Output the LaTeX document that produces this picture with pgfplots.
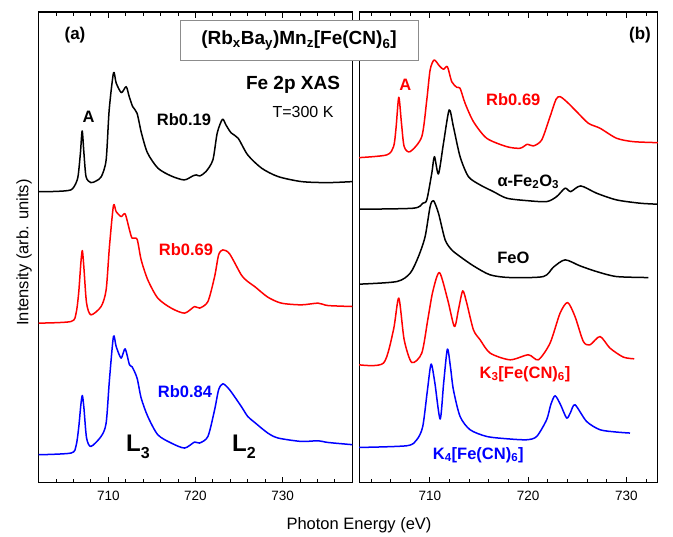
\documentclass[border=0pt]{standalone}
\usepackage{fontspec}
\setmainfont{Liberation Sans}
\usepackage{pgfplots}
\pgfplotsset{compat=1.18}
\definecolor{xred}{RGB}{255,0,0}
\definecolor{xblue}{RGB}{0,0,255}
\newcommand{\fs}[1]{\fontsize{#1}{#1}\selectfont}
\pgfplotsset{
  xas/.style={
    scale only axis, anchor=south west,
    height=470.7pt, ymin=0, ymax=471, ytick=\empty,
    xtick={710,720,730},
    tick align=inside, major tick length=6pt, minor tick length=3.5pt,
    axis line style={line width=1.1pt},
    every tick/.style={black, line width=0.9pt},
    tick label style={font=\fs{13.5}},
    /pgf/number format/assume math mode=true,
    /pgf/number format/1000 sep={},
    xticklabel style={yshift=-5pt},
    every axis plot/.append style={line width=1.5pt, line join=round, no markers, smooth, tension=0.45},
  }
}
\begin{document}
\begin{tikzpicture}[x=1pt,y=1pt]
\useasboundingbox (0,0) rectangle (673,537);

% panel (a)
\begin{axis}[xas, at={(44.3,54.3)}, width=313.7pt, xmin=702, xmax=738,
  minor xtick={702,704,...,738}]
\addplot[black] coordinates {
(702,291.3) (704,291.5) (705.7,293) (706.3,300) (706.55,308) (706.8,330) (707.0,352) (707.2,330) (707.45,306) (708.0,300.3) (708.6,302) (709.2,306.3) (709.75,323) (710.1,373) (710.6,410.3) (710.9,400) (711.5,390.3) (712.05,396.3) (712.4,386.3) (712.8,376.3) (713.3,369.7) (713.8,350) (714.5,330) (715.7,314.7) (717.2,307) (718.7,303) (719.7,307) (720.1,308) (720.5,307) (721.2,311.3) (722.0,323) (722.5,350) (723.1,363.7) (723.5,358) (724.1,350) (724.9,344.7) (726.0,328) (727.6,314.7) (729.5,306.3) (732.2,301.3) (735.2,300.3) (738,301.3)
};
\addplot[xred] coordinates {
(702,159.7) (705.72,161.3) (706.3,169.7) (706.6,190) (706.85,220) (707.02,232.3) (707.2,215) (707.5,180) (708.0,168) (709.17,176.3) (709.75,193) (710.13,236.3) (710.59,277.3) (710.9,271.3) (711.47,266.3) (711.93,269) (712.43,253) (712.73,244.7) (713.3,243.7) (713.77,223) (714.53,203) (715.68,184.7) (717.22,174.7) (718.75,169.7) (719.9,176.3) (720.47,174.7) (721.43,181.3) (722.2,206.3) (722.66,228) (723.15,233) (723.92,229) (725.26,208) (726.0,201.3) (726.8,196.3) (728.3,185.7) (729.86,179.7) (732.16,178) (734.07,179.7) (735.2,177.3) (738.1,176.3)
};
\addplot[xblue] coordinates {
(702,28) (705.72,29.7) (706.3,37) (706.6,55) (706.85,78) (707.02,87.3) (707.2,75) (707.5,45) (708.0,36.3) (709.17,46.3) (709.75,59.7) (710.13,103) (710.59,146.3) (710.9,136.3) (711.47,124.7) (711.93,134) (712.43,118) (712.73,116) (713.3,104.7) (713.77,84.7) (714.53,66.3) (715.68,48) (717.22,39.7) (718.75,34.7) (719.9,40.7) (720.47,39.7) (721.43,46.3) (722.2,73) (722.66,93) (723.15,99) (723.92,93) (725.26,76.3) (726.0,66.3) (726.8,60.3) (728.3,49.7) (729.5,44.7) (732.16,41.3) (734.07,42) (735.2,40.3) (738.1,38)
};
\end{axis}

% panel (b)
\begin{axis}[xas, at={(365.7,54.3)}, width=298.6pt, xmin=702.8, xmax=733.2,
  minor xtick={704,706,...,732}]
\addplot[xred] coordinates {
(702.8,325.3) (705.6,328) (706.3,336.3) (706.55,355) (706.83,385.7) (707.1,360) (707.38,336.3) (707.99,331.3) (709.17,346.3) (709.68,383) (710.02,413) (710.43,423) (710.97,417) (711.38,413.7) (711.78,416.3) (712.22,401.3) (712.73,395.7) (713.07,394.7) (713.58,379.7) (714.43,361.3) (715.78,344.7) (717.82,336.3) (719.18,334.7) (719.92,338.7) (720.53,337) (721.38,343) (722.23,366.3) (722.84,383.7) (723.25,386.3) (723.92,381.3) (724.94,371.3) (726.13,359.7) (727.32,354.7) (729.0,344.7) (730.7,341.3) (733.2,340.3)
};
\addplot[black] coordinates {
(702.8,273.7) (708.32,274.7) (709.27,279.7) (709.68,283) (710.19,309.7) (710.46,326.3) (710.87,309) (711.38,339.7) (711.96,373) (712.39,356.3) (713.07,326.3) (713.92,306.3) (715.11,298) (716.46,291.3) (717.82,284.7) (719.85,282.3) (721.88,281.3) (722.9,286.3) (723.76,294.7) (724.33,291.3) (725.35,297) (726.97,289.7) (729.0,283) (731.39,279.7) (733.2,278.7)
};
\addplot[black] coordinates {
(702.8,198.7) (706.63,201.3) (707.99,209.7) (708.83,226.3) (709.51,246.3) (710.02,276.3) (710.36,282.3) (710.87,269.7) (711.55,243) (712.22,233) (713.07,226.3) (714.43,217) (716.13,208) (718.16,205.3) (721.55,206.3) (722.57,215.7) (723.76,223) (725.28,217) (726.97,211.3) (729.0,206.3) (732.23,205.3)
};
\addplot[xred] coordinates {
(702.8,118) (705.27,119.7) (706.29,153) (706.83,184.7) (707.38,143) (708.15,120.3) (709.17,129.7) (709.78,163) (710.29,191.3) (710.97,210.3) (711.81,183) (712.49,156.3) (712.9,173) (713.34,192) (713.75,179.7) (714.43,153) (715.11,143) (716.13,129.7) (718.16,123) (720.02,128) (721.04,123) (722.23,139.7) (723.25,169.7) (724.02,180.3) (724.77,166.3) (725.62,141.3) (726.3,138) (727.32,146.3) (728.33,134.7) (729.69,125.7) (730.8,124)
};
\addplot[xblue] coordinates {
(702.8,35.3) (707.64,37) (708.66,43) (709.27,56.3) (709.75,93) (710.12,118.7) (710.5,100) (711.04,63.7) (711.4,100) (711.78,133.7) (712.1,115) (712.39,93) (713.07,66.3) (714.09,53) (715.78,46.3) (717.82,44) (719.85,43) (720.87,46.3) (721.88,63) (722.3,78) (722.74,87) (723.3,78) (723.92,64.7) (724.3,70) (724.77,78) (725.95,61.3) (727.32,53) (729.0,50.7) (730.37,49.7)
};
\end{axis}

% texts
\node[font=\fs{17}\bfseries] at (75,502) {(a)};
\node[font=\fs{17}\bfseries] at (640,502) {(b)};
\node[font=\fs{16.5}\bfseries] at (88.7,420.3) {A};
\node[font=\fs{16.5}\bfseries] at (184,417) {Rb0.19};
\node[font=\fs{19}\bfseries] at (293,452) {Fe 2p XAS};
\node[font=\fs{16}] at (303,425) {T=300 K};
\node[font=\fs{16.5}\bfseries, text=xred] at (186,287) {Rb0.69};
\node[font=\fs{16.5}\bfseries, text=xblue] at (185,145.3) {Rb0.84};
\node[font=\fs{24}\bfseries] at (138,90) {L\raisebox{-0.3em}{\fs{16}3}};
\node[font=\fs{24}\bfseries] at (244,90) {L\raisebox{-0.3em}{\fs{16}2}};
\node[font=\fs{16.5}\bfseries, text=xred] at (405.3,452) {A};
\node[font=\fs{16.5}\bfseries, text=xred] at (513.3,437.7) {Rb0.69};
\node[font=\fs{16.5}\bfseries] at (528.3,355.3) {α-Fe\textsubscript{2}O\textsubscript{3}};
\node[font=\fs{16.5}\bfseries] at (513.3,278.7) {FeO};
\node[font=\fs{16.5}\bfseries, text=xred] at (525,163) {K\textsubscript{3}[Fe(CN)\textsubscript{6}]};
\node[font=\fs{16.5}\bfseries, text=xblue] at (478.3,82) {K\textsubscript{4}[Fe(CN)\textsubscript{6}]};
\node[draw=black!45, line width=0.8pt, fill=white, minimum width=238pt, minimum height=40pt,
  font=\fs{19}\bfseries] at (299,496.3)
  {(Rb\textsubscript{x}Ba\textsubscript{y})Mn\textsubscript{z}[Fe(CN)\textsubscript{6}]};
\node[font=\fs{16.5}, rotate=90] at (24,284.5) {Intensity (arb. units)};
\node[font=\fs{16.5}] at (359,12) {Photon Energy (eV)};
\end{tikzpicture}
\end{document}
